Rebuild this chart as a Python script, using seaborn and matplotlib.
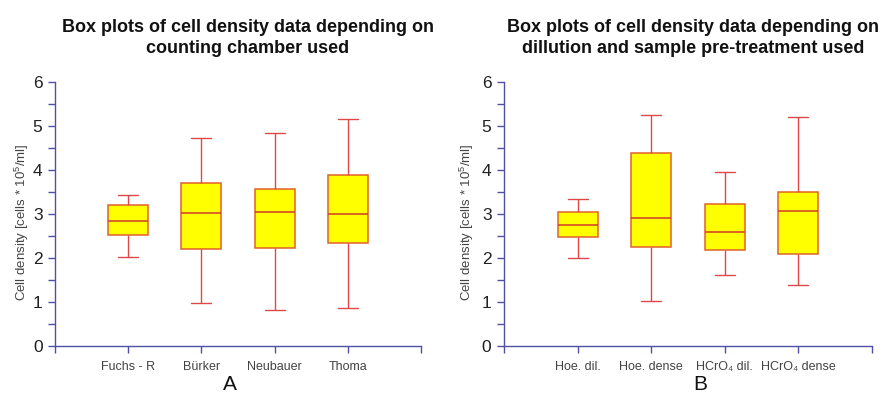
import numpy as np
import pandas as pd
import matplotlib
matplotlib.use("Agg")
import matplotlib.pyplot as plt
from matplotlib.ticker import MultipleLocator, FixedLocator
import seaborn as sns

# ---- data (five-number summaries) ----
cats_a = ["Fuchs - R", "Bürker", "Neubauer", "Thoma"]
min_a = [2.02, 0.97, 0.82, 0.86]
q1_a = [2.53, 2.20, 2.22, 2.33]
med_a = [2.83, 3.03, 3.04, 3.01]
q3_a = [3.21, 3.70, 3.57, 3.88]
max_a = [3.44, 4.72, 4.83, 5.15]

cats_b = ["Hoe. dil.", "Hoe. dense", "HCrO\u2084 dil.", "HCrO\u2084 dense"]
min_b = [2.01, 1.03, 1.62, 1.39]
q1_b = [2.48, 2.24, 2.19, 2.08]
med_b = [2.74, 2.91, 2.58, 3.07]
q3_b = [3.04, 4.38, 3.23, 3.49]
max_b = [3.35, 5.25, 3.96, 5.20]

title_a = "Box plots of cell density data depending on\ncounting chamber used"
title_b = "Box plots of cell density data depending on\ndillution and sample pre-treatment used"
ylabel = "Cell density [cells * 10$^5$/ml]"


def to_long(cats, mn, q1, md, q3, mx):
    rows = []
    for c, a, b, m, d, e in zip(cats, mn, q1, md, q3, mx):
        for v in (a, b, m, d, e):
            rows.append({"cat": c, "val": v})
    return pd.DataFrame(rows)


df_a = to_long(cats_a, min_a, q1_a, med_a, q3_a, max_a)
df_b = to_long(cats_b, min_b, q1_b, med_b, q3_b, max_b)

sns.set_style("white")
plt.rcParams["font.family"] = ["Liberation Sans", "DejaVu Sans"]
plt.rcParams["mathtext.fontset"] = "custom"
plt.rcParams["mathtext.rm"] = "Liberation Sans"

fig = plt.figure(figsize=(8.89, 4.01), dpi=100)
W, H = 889, 401

spine_col = "#5050A8"
box_edge = "#E0602A"
whisk_col = "#E04848"
med_col = "#D03A2A"


def panel(left_px, right_px, df, cats, label_x):
    top_px, bot_px = 82, 346
    ax = fig.add_axes([left_px / W, 1 - bot_px / H,
                       (right_px - left_px) / W, (bot_px - top_px) / H])
    sns.boxplot(data=df, x="cat", y="val", order=cats, ax=ax,
                whis=(0, 100), width=0.545, showfliers=False,
                color="#FFFF00", saturation=1, linewidth=1.0,
                boxprops=dict(facecolor="#FFFF00", edgecolor=box_edge, linewidth=1.1),
                whiskerprops=dict(color=whisk_col, linewidth=1.0),
                capprops=dict(color=whisk_col, linewidth=1.0),
                medianprops=dict(color=med_col, linewidth=1.1))
    ax.set_xlim(-1, 4)
    ax.set_ylim(0, 6)
    for s in ("top", "right"):
        ax.spines[s].set_visible(False)
    for s in ("left", "bottom"):
        ax.spines[s].set_color(spine_col)
        ax.spines[s].set_linewidth(1.0)
    ax.yaxis.set_major_locator(MultipleLocator(1))
    ax.yaxis.set_minor_locator(MultipleLocator(0.5))
    ax.xaxis.set_minor_locator(FixedLocator([-1, 4]))
    ax.tick_params(axis="y", which="both", direction="out", length=5,
                   color=spine_col, width=1.0, labelsize=12.5,
                   labelcolor="#222222", pad=4, left=True)
    ax.tick_params(axis="x", which="both", direction="out", length=5,
                   color=spine_col, width=1.0, labelsize=9,
                   labelcolor="#444444", pad=6, bottom=True)
    ax.set_xlabel("")
    ax.set_ylabel(ylabel, fontsize=9.5, color="#444444")
    ax.yaxis.set_label_coords(label_x, 0.47)
    ax.set_facecolor("white")
    return ax


ax1 = panel(55, 421, df_a, cats_a, -0.066)
ax2 = panel(504, 872, df_b, cats_b, -0.076)

fig.text(248 / W, 1 - 38 / H, title_a, ha="center", va="center",
         fontsize=13, fontweight="bold", linespacing=1.3, color="#111111")
fig.text(693 / W, 1 - 38 / H, title_b, ha="center", va="center",
         fontsize=13, fontweight="bold", linespacing=1.3, color="#111111")
fig.text(230 / W, 1 - 385 / H, "A", ha="center", va="center", fontsize=15, color="#111111")
fig.text(700 / W, 1 - 385 / H, "B", ha="center", va="center", fontsize=15, color="#111111")

fig.savefig("out.png", dpi=100, facecolor="white")
